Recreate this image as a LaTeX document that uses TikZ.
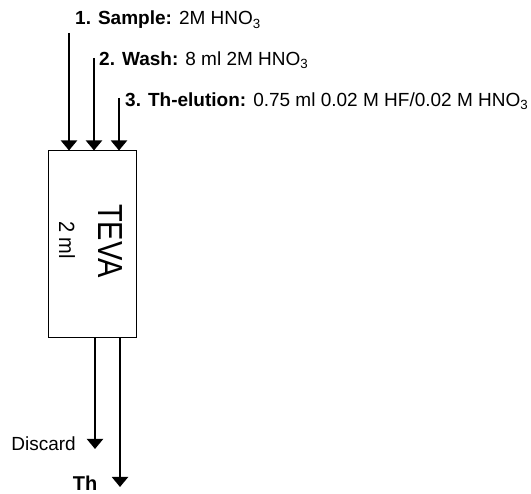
\documentclass[tikz,border=0pt]{standalone}
\usepackage{graphicx}
\usepackage{fontspec}
\setmainfont{Liberation Sans}
\newfontfamily\plainsans{Liberation Sans}
\usetikzlibrary{arrows.meta}
\begin{document}
\begin{tikzpicture}[x=1pt,y=-1pt,
  arr/.style={line width=2pt,-{Triangle[width=16pt,length=10pt]}},
  lbl/.style={inner sep=0pt,anchor=west,font=\fontsize{19}{22}\selectfont},
  column/.style={draw,line width=1pt,minimum width=88pt,minimum height=187pt,inner sep=0pt}]
\useasboundingbox (0,0) rectangle (531,494);
\node[column] (box) at (92,244.5) {};
\node[rotate=-90,inner sep=0pt,font=\plainsans\fontsize{29}{31}\selectfont] (teva) at (110,241) {\scalebox{1}[1.2]{TEVA}};
\node[rotate=-90,inner sep=0pt,font=\plainsans\fontsize{20}{22}\selectfont] (vol) at (67,240) {\scalebox{1}[1.1]{2 ml}};
\coordinate (s1) at (69,33);
\coordinate (s2) at (94,58);
\coordinate (s3) at (119,98);
\draw[arr] (s1) -- (s1 |- box.north);
\draw[arr] (s2) -- (s2 |- box.north);
\draw[arr] (s3) -- (s3 |- box.north);
\node[lbl] (l1) at (75,20) {\textbf{1. Sample:} 2M HNO\textsubscript{3}};
\node[lbl] (l2) at (99,60) {\textbf{2. Wash:} 8 ml 2M HNO\textsubscript{3}};
\node[lbl] (l3) at (125,101) {\textbf{3. Th-elution:} 0.75 ml 0.02 M HF/0.02 M HNO\textsubscript{3}};
\coordinate (d0) at (95,338);
\coordinate (d1) at (95,449);
\coordinate (t0) at (120,338);
\coordinate (t1) at (120,487);
\draw[arr] (d0 |- box.south) -- (d1);
\draw[arr] (t0 |- box.south) -- (t1);
\node[lbl,anchor=east] (disc) at (76,444) {Discard};
\node[lbl,anchor=center,font=\fontsize{20}{22}\selectfont] (th) at (85,483) {\textbf{Th}};
\end{tikzpicture}
\end{document}
